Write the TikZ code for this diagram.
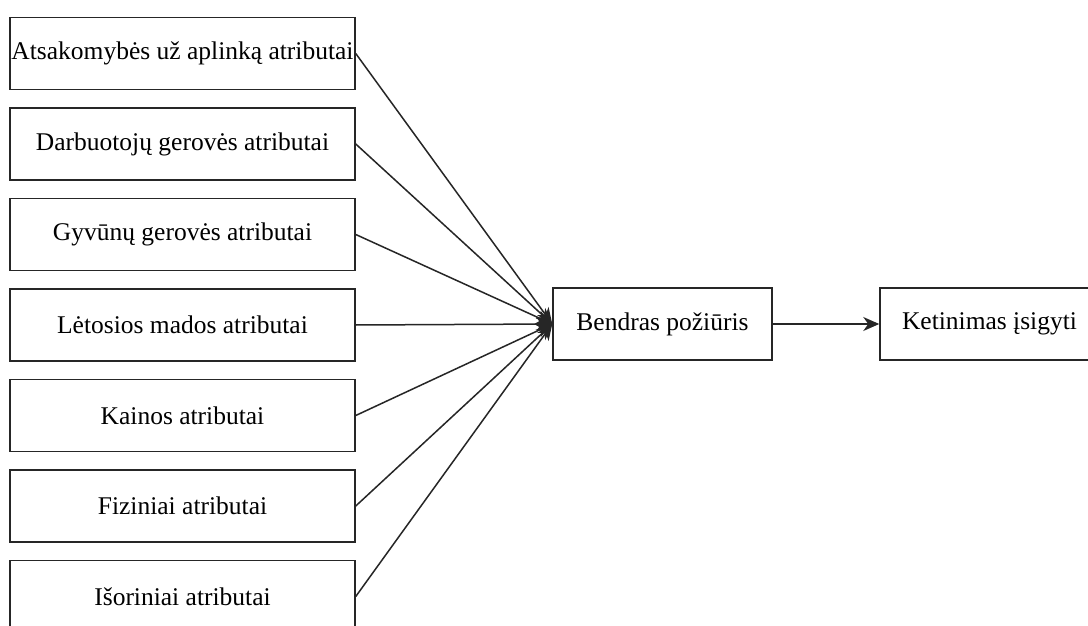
\documentclass[tikz,border=0pt]{standalone}
\usepackage{fontspec}
\setmainfont{Liberation Serif}
\usetikzlibrary{arrows.meta}
\begin{document}
\begin{tikzpicture}[x=1pt,y=-1pt,
  attrbox/.style={draw=black!85, line width=1.5pt, fill=white, minimum width=345pt,
    minimum height=72pt, inner sep=0pt, font=\fontsize{25.5}{30}\selectfont, anchor=center},
  mainbox/.style={attrbox, minimum width=219pt},
  link/.style={draw=black!85, line width=1.5pt, -{Stealth[length=16pt,width=14pt,inset=5pt]}}]
  \clip (0,0) rectangle (1088,626);
  \fill[white] (0,0) rectangle (1088,626);

  % attribute boxes on the left
  \node[attrbox] (a1) at (182.5,53.5)  {Atsakomybės už aplinką atributai};
  \node[attrbox] (a2) at (182.5,144)   {Darbuotojų gerovės atributai};
  \node[attrbox] (a3) at (182.5,234.5) {Gyvūnų gerovės atributai};
  \node[attrbox] (a4) at (182.5,325)   {Lėtosios mados atributai};
  \node[attrbox] (a5) at (182.5,415.5) {Kainos atributai};
  \node[attrbox] (a6) at (182.5,506)   {Fiziniai atributai};
  \node[attrbox] (a7) at (182.5,596.5) {Išoriniai atributai};

  % attitude and intention
  \node[mainbox] (att) at (662.5,324) {Bendras požiūris};
  \node[mainbox] (int) at (989.5,324) {Ketinimas įsigyti};

  \foreach \i in {1,...,7}
    \draw[link] (a\i.east) -- (att.west);
  \draw[link] (att.east) -- (int.west);
\end{tikzpicture}
\end{document}
